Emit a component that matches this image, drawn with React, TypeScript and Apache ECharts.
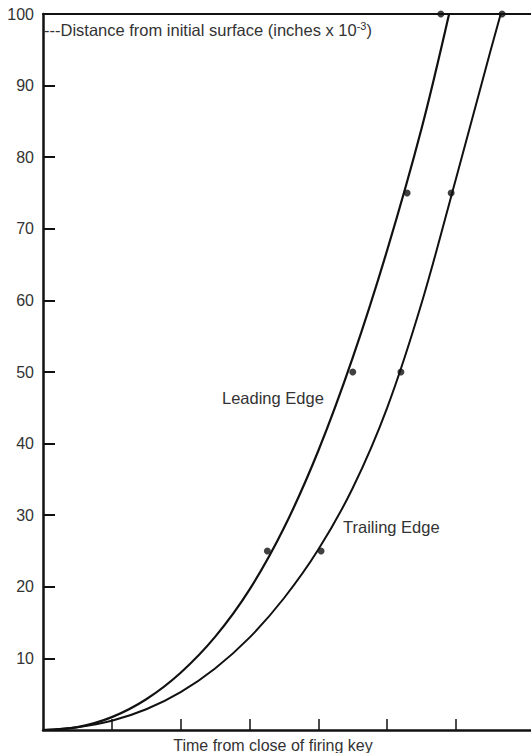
import React, { useEffect, useRef } from "react";
import * as echarts from "echarts";

// Curve points (x = time units, y = distance, inches x 10^-3)
const leadingCurveX = [0, 0.5, 1, 1.5, 2, 2.5, 3, 3.5, 4, 4.5, 5, 5.5, 5.9];
const leadingCurveY = [0, 0.4, 1.8, 4.3, 8.0, 13.0, 19.6, 28.2, 39.0, 52.0, 67.0, 84.0, 100];
const trailingCurveX = [0, 0.5, 1, 1.5, 2, 2.5, 3, 3.5, 4, 4.5, 5, 5.5, 6, 6.5, 6.65];
const trailingCurveY = [0, 0.4, 1.3, 2.9, 5.3, 8.6, 12.9, 18.4, 25.2, 33.8, 45.0, 59.6, 77.0, 94.8, 100];

// Measured points
const leadingPointsX = [3.26, 4.5, 5.29, 5.78];
const leadingPointsY = [25, 50, 75, 100];
const trailingPointsX = [4.04, 5.2, 5.93, 6.67];
const trailingPointsY = [25, 50, 75, 100];

const yTicks = [0, 10, 20, 30, 40, 50, 60, 70, 80, 90, 100];
const xTickValues = [1, 2, 3, 4, 5, 6];

const titleText = "---Distance from initial surface (inches x 10";
const titleSup = "-3";
const xAxisTitle = "Time from close of firing key";
const leadingLabel = "Leading Edge";
const trailingLabel = "Trailing Edge";

const zip = (xs: number[], ys: number[]) => xs.map((x, i) => [x, ys[i]]);

export default function App() {
  const ref = useRef<HTMLDivElement>(null);
  useEffect(() => {
    document.body.style.margin = "0";
    const chart = echarts.init(ref.current!, null, { renderer: "svg" });
    const font = "Liberation Sans, Arial, sans-serif";
    const textColor = "#333";
    const lineColor = "#111";
    chart.setOption({
      animation: false,
      backgroundColor: "#fff",
      grid: { left: 43, right: 0, top: 14, bottom: 23 },
      xAxis: [
        {
          type: "value",
          min: 0,
          max: 7.09,
          position: "bottom",
          axisLine: { show: true, lineStyle: { color: lineColor, width: 2.5 } },
          axisTick: {
            show: true,
            inside: true,
            length: 11,
            customValues: xTickValues,
            lineStyle: { color: lineColor, width: 1.5 },
          },
          axisLabel: { show: false },
          splitLine: { show: false },
        },
        {
          type: "value",
          min: 0,
          max: 7.09,
          position: "top",
          axisLine: { show: true, lineStyle: { color: lineColor, width: 2 } },
          axisTick: { show: false },
          axisLabel: { show: false },
          splitLine: { show: false },
        },
      ],
      yAxis: {
        type: "value",
        min: yTicks[0],
        max: yTicks[yTicks.length - 1],
        interval: 10,
        axisLine: { show: true, lineStyle: { color: lineColor, width: 2.5 } },
        axisTick: { show: true, inside: true, length: 12, lineStyle: { color: lineColor, width: 2 } },
        axisLabel: {
          show: true,
          margin: 9,
          fontFamily: font,
          fontSize: 16,
          color: textColor,
          formatter: (v: number) => (v === 0 ? "" : String(v)),
        },
        splitLine: { show: false },
      },
      series: [
        {
          type: "line",
          name: leadingLabel,
          data: zip(leadingCurveX, leadingCurveY),
          smooth: 0.35,
          showSymbol: false,
          symbol: "none",
          lineStyle: { color: lineColor, width: 2.2 },
        },
        {
          type: "line",
          name: trailingLabel,
          data: zip(trailingCurveX, trailingCurveY),
          smooth: 0.35,
          showSymbol: false,
          symbol: "none",
          lineStyle: { color: lineColor, width: 2 },
        },
        {
          type: "scatter",
          data: zip(leadingPointsX, leadingPointsY),
          symbolSize: 7,
          itemStyle: { color: lineColor },
        },
        {
          type: "scatter",
          data: zip(trailingPointsX, trailingPointsY),
          symbolSize: 7,
          itemStyle: { color: lineColor },
        },
      ],
      graphic: [
        {
          type: "text",
          left: 44,
          top: 20,
          style: {
            text: `{a|${titleText}}{s|${titleSup}}{a|)}`,
            rich: {
              a: { fontFamily: font, fontSize: 16.5, fill: textColor },
              s: { fontFamily: font, fontSize: 11, fill: textColor, padding: [0, 0, 9, 0] },
            },
          },
        },
        {
          type: "text",
          x: 222,
          y: 398,
          style: {
            text: leadingLabel,
            fontFamily: font,
            fontSize: 16.5,
            fill: textColor,
            verticalAlign: "middle",
          },
        },
        {
          type: "text",
          x: 343,
          y: 527,
          style: {
            text: trailingLabel,
            fontFamily: font,
            fontSize: 16.5,
            fill: textColor,
            verticalAlign: "middle",
          },
        },
        {
          type: "text",
          x: 273,
          y: 745,
          style: {
            text: xAxisTitle,
            fontFamily: font,
            fontSize: 16,
            fill: textColor,
            align: "center",
            verticalAlign: "middle",
          },
        },
      ],
    });
    return () => chart.dispose();
  }, []);
  return <div ref={ref} style={{ width: 531, height: 753 }} />;
}
